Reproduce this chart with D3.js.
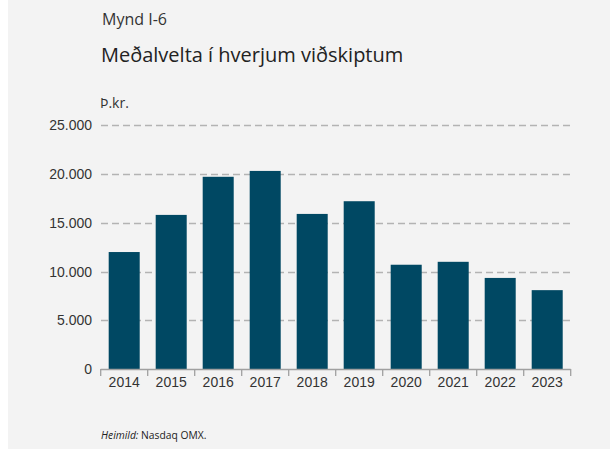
<!DOCTYPE html>
<html><head><meta charset="utf-8">
<script src="https://cdn.jsdelivr.net/npm/d3@7"></script>
<style>
html,body{margin:0;padding:0;background:#fff;}
svg{display:block;font-family:"Segoe UI","Open Sans","Noto Sans",sans-serif;}
</style></head>
<body>
<script>
const years = ["2014","2015","2016","2017","2018","2019","2020","2021","2022","2023"];
const values = [12000,15800,19700,20300,15900,17200,10700,11000,9350,8100];
const yTicks = [0,5000,10000,15000,20000,25000];
const figLabel = "Mynd I-6";
const title = "Meðalvelta í hverjum viðskiptum";
const unit = "Þ.kr.";
const sourceLabel = "Heimild:";
const sourceText = " Nasdaq OMX.";

const W = 610, H = 449;
const svg = d3.select("body").append("svg").attr("width", W).attr("height", H);
svg.append("rect").attr("x",0).attr("y",0).attr("width",W).attr("height",H).attr("fill","#fff");
svg.append("rect").attr("x",8).attr("y",0).attr("width",W-8).attr("height",H).attr("fill","#f3f3f3");

const x = d3.scaleBand().domain(years).range([100.7, 570.7]).paddingInner(0.34).paddingOuter(0.17);
const y = d3.scaleLinear().domain([0,25000]).range([369.3, 125]);

// gridlines
svg.append("g").selectAll("line").data(yTicks.filter(d=>d>0)).join("line")
  .attr("x1",101).attr("x2",572)
  .attr("y1",d=>Math.round(y(d))+0.5).attr("y2",d=>Math.round(y(d))+0.5)
  .attr("stroke","#b3b3b3").attr("stroke-width",1.3).attr("stroke-dasharray","7,4");

// bars
svg.append("g").selectAll("rect").data(values).join("rect")
  .attr("x",(d,i)=>x(years[i])).attr("width",x.bandwidth())
  .attr("y",d=>y(d)).attr("height",d=>y(0)-y(d))
  .attr("fill","#004863");

// x axis
const xa = svg.append("g").attr("transform",`translate(0,${y(0)})`)
  .call(d3.axisBottom(x).tickSize(0).tickPadding(8));
xa.select(".domain").remove();
xa.selectAll("text").attr("font-size",14).attr("fill","#333").attr("font-family",null);
const bounds = [x.range()[0]].concat(years.map(d=>x(d)+x.bandwidth()+x.step()*x.paddingInner()/2));
bounds[bounds.length-1] = x.range()[1];
svg.append("line").attr("x1",x.range()[0]).attr("x2",x.range()[1]).attr("y1",369.5).attr("y2",369.5)
  .attr("stroke","#a0a0a0").attr("stroke-width",1.3);
svg.append("g").selectAll("line").data(bounds).join("line")
  .attr("x1",d=>d).attr("x2",d=>d).attr("y1",369).attr("y2",376)
  .attr("stroke","#a0a0a0").attr("stroke-width",1.3);

// y axis labels
const ya = svg.append("g").attr("transform","translate(100,0)")
  .call(d3.axisLeft(y).tickValues(yTicks).tickSize(0).tickPadding(8)
    .tickFormat(d=>d3.format(",")(d).replace(/,/g,".")));
ya.select(".domain").remove();
ya.selectAll("text").attr("font-size",14).attr("fill","#333").attr("font-family",null);

// texts
svg.append("text").attr("x",102).attr("y",25).attr("font-size",16).attr("fill","#333").text(figLabel);
svg.append("text").attr("x",101).attr("y",62).attr("font-size",20).attr("fill","#222").text(title);
svg.append("text").attr("x",100).attr("y",108).attr("font-size",14).attr("fill","#333").text(unit);
const src = svg.append("text").attr("x",101).attr("y",439).attr("font-size",10.3).attr("fill","#222");
src.append("tspan").attr("font-style","italic").text(sourceLabel);
src.append("tspan").text(sourceText);
</script>
</body></html>
